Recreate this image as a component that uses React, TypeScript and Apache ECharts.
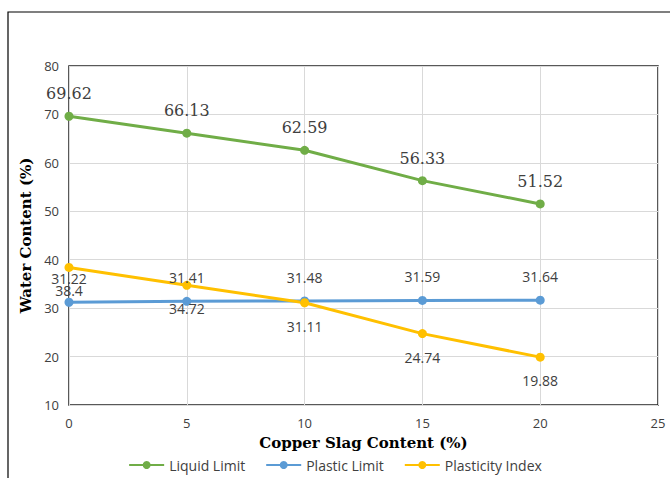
import React, { useEffect, useRef } from "react";
import * as echarts from "echarts";

const xValues = [0, 5, 10, 15, 20];
const liquidLimit = [69.62, 66.13, 62.59, 56.33, 51.52];
const plasticLimit = [31.22, 31.41, 31.48, 31.59, 31.64];
const plasticityIndex = [38.4, 34.72, 31.11, 24.74, 19.88];
const seriesNames = ["Liquid Limit", "Plastic Limit", "Plasticity Index"];
const colors = ["#70AD47", "#5B9BD5", "#FFC000"];

export default function App() {
  const ref = useRef<HTMLDivElement>(null);
  useEffect(() => {
    if (!ref.current) return;
    const chart = echarts.init(ref.current, undefined, { renderer: "svg" });
    const mk = (vals: number[]) => vals.map((v, i) => [xValues[i], v]);
    const sans = "Open Sans";
    chart.setOption({
      animation: false,
      backgroundColor: "#fff",
      graphic: [
        {
          type: "rect",
          shape: { x: 8, y: 12, width: 700, height: 520 },
          style: { fill: "none", stroke: "#000", lineWidth: 1.2 },
          silent: true,
        },
      ],
      grid: { left: 69, right: 12, top: 66, bottom: 73, show: true, borderColor: "#222", borderWidth: 1.5, containLabel: false },
      xAxis: {
        type: "value",
        min: 0,
        max: 25,
        interval: 5,
        name: "Copper Slag Content (%)",
        nameLocation: "middle",
        nameGap: 30,
        nameTextStyle: { fontFamily: "DejaVu Serif", fontWeight: "bold", fontSize: 15, color: "#000" },
        axisLine: { show: false },
        axisTick: { show: false },
        axisLabel: { fontFamily: sans, fontSize: 13, color: "#404040", margin: 11 },
        splitLine: { show: true, lineStyle: { color: "#d9d9d9", width: 1 } },
      },
      yAxis: {
        type: "value",
        min: 10,
        max: 80,
        interval: 10,
        name: "Water Content (%)",
        nameLocation: "middle",
        nameGap: 34,
        nameRotate: 90,
        nameTextStyle: { fontFamily: "DejaVu Serif", fontWeight: "bold", fontSize: 15, color: "#000" },
        axisLine: { show: false },
        axisTick: { show: false },
        axisLabel: { fontFamily: sans, fontSize: 13, color: "#404040", margin: 10 },
        splitLine: { show: true, lineStyle: { color: "#d9d9d9", width: 1 } },
      },
      legend: {
        top: 453,
        left: "center",
        itemGap: 20,
        itemWidth: 35,
        itemHeight: 10,
        textStyle: { fontFamily: sans, fontSize: 14, color: "#404040" },
        data: seriesNames,
      },
      series: [
        {
          name: seriesNames[0],
          type: "line",
          data: mk(liquidLimit),
          color: colors[0],
          symbol: "circle",
          symbolSize: 9,
          lineStyle: { width: 3 },
          label: { show: true, position: "top", distance: 10, fontFamily: "DejaVu Serif", fontSize: 16, color: "#404040" },
        },
        {
          name: seriesNames[1],
          type: "line",
          data: mk(plasticLimit),
          color: colors[1],
          symbol: "circle",
          symbolSize: 9,
          lineStyle: { width: 3 },
          label: { show: true, position: "top", distance: 12, fontFamily: sans, fontSize: 14, color: "#404040" },
        },
        {
          name: seriesNames[2],
          type: "line",
          data: mk(plasticityIndex),
          color: colors[2],
          symbol: "circle",
          symbolSize: 9,
          lineStyle: { width: 3 },
          label: { show: true, position: "bottom", distance: 12, fontFamily: sans, fontSize: 14, color: "#404040" },
        },
      ],
    });
    return () => chart.dispose();
  }, []);
  return <div ref={ref} style={{ position: "absolute", left: 0, top: 0, width: 670, height: 478 }} />;
}
